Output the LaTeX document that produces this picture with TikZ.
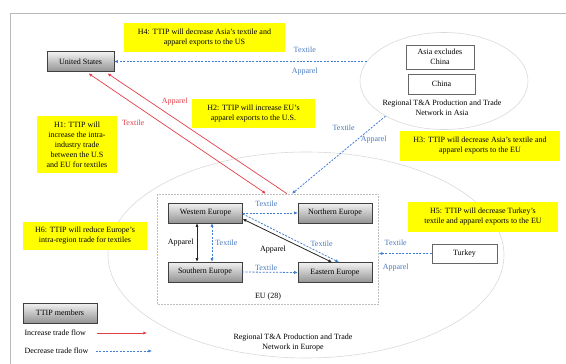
\documentclass[tikz,border=0pt]{standalone}
\usepackage{fontspec}
\setmainfont{Liberation Serif}
\usetikzlibrary{arrows.meta,shapes.geometric}

\definecolor{incred}{RGB}{228,62,72}
\definecolor{decblue}{RGB}{66,126,212}
\definecolor{lblblue}{RGB}{72,122,192}
\definecolor{hypyellow}{RGB}{255,255,0}

\tikzstyle{member}=[draw=gray!50!black, top color=gray!10, bottom color=gray!85, minimum height=20pt, inner sep=1pt]
\tikzstyle{other}=[draw=gray!80!black, line width=0.7pt, fill=white, align=center, inner sep=1pt]
\tikzstyle{hypo}=[fill=hypyellow, align=center, inner sep=1pt]
\tikzstyle{region}=[draw=gray!30, line width=0.6pt, ellipse, inner sep=0pt]
\tikzstyle{eubox}=[draw=gray!50, dash pattern=on 2pt off 1pt, line width=0.6pt, inner sep=0pt]
\tikzstyle{incr}=[draw=incred, line width=0.7pt]
\tikzstyle{decr}=[draw=decblue, line width=0.8pt, dash pattern=on 2pt off 1.4pt]
\tikzstyle{intra}=[draw=black!85, line width=0.8pt]
\tikzstyle{redlbl}=[text=incred, inner sep=1pt]
\tikzstyle{bluelbl}=[text=lblblue, inner sep=1pt]
\tikzstyle{blacklbl}=[inner sep=1pt]
\newcommand{\flowfont}{\fontsize{8}{10}\selectfont}

\begin{document}
\begin{tikzpicture}[x=1pt, y=-1pt, font=\flowfont, >={Latex[length=3.6pt,width=3.2pt]}]
    \useasboundingbox (0,0) rectangle (566,364);
    % Frame and the two regional networks
    \draw[gray!55, line width=1pt] (10,364) -- (10,13) -- (566,13);
    \node[region, minimum width=168pt, minimum height=97pt] (asia) at (444,81) {};
    \node[region, minimum width=396pt, minimum height=206pt] (europe) at (306,255) {};
    \node[eubox, minimum width=221pt, minimum height=110pt] (eu) at (268,249) {};
    \node (eulbl) at (268,297) {EU (28)};
    \node[align=center] (asialbl) at (442,107.5) {Regional T\&A Production and Trade\\Network in Asia};
    \node[align=center] (europelbl) at (293,342.5) {Regional T\&A Production and Trade\\Network in Europe};
    % The hypotheses
    \foreach \pos/\name/\w/\h/\txt in {{(204.5,37.5)/hfour/161/29/{H4: TTIP will decrease Asia’s textile and\\apparel exports to the US}},
        {(77,144.5)/hone/80/57/{H1: TTIP will\\increase the intra-\\industry trade\\between the U.S\\and EU for textiles}},
        {(253.5,113.5)/htwo/123/29/{H2: TTIP will increase EU’s\\apparel exports to the U.S.}},
        {(480,146)/hthree/160/30/{H3: TTIP will decrease Asia’s textile and\\apparel exports to the EU}},
        {(483,217)/hfive/150/30/{H5: TTIP will decrease Turkey’s\\textile and apparel exports to the EU}},
        {(85,236)/hsix/124/28/{H6: TTIP will reduce Europe’s\\intra-region trade for textiles}}}
        \node[hypo, minimum width=\w pt, minimum height=\h pt] (\name) at \pos {\txt};
    % Then the countries and regions
    \foreach \pos/\name/\w/\txt in {{(80.5,61.5)/us/67/United States}, {(205.5,213)/weu/74/Western Europe},
        {(335,213)/neu/74/Northern Europe}, {(205,272)/seu/74/Southern Europe},
        {(335,272.5)/eeu/74/Eastern Europe}, {(60,313)/ttip/74/TTIP members}}
        \node[member, minimum width=\w pt] (\name) at \pos {\txt};
    \foreach \pos/\name/\w/\h/\txt in {{(440,57)/asnc/68/24/{Asia excludes\\China}}, {(441.5,84)/china/67/20/China},
        {(464.5,253.5)/tur/65/19/Turkey}}
        \node[other, minimum width=\w pt, minimum height=\h pt] (\name) at \pos {\txt};
    % Trade flows between the regions
    \path[decr, ->] (asia.166 |- us.east) -- node[bluelbl, pos=0.245, above=8pt] (txa) {Textile}
        node[bluelbl, pos=0.245, below=5.5pt] (apa) {Apparel} (us.east);
    \path[decr, ->] (asia.211) -- node[bluelbl, pos=0.154, left=15pt] (txb) {Textile}
        node[bluelbl, pos=0.3, right=2pt] (apb) {Apparel} ([xshift=24pt]eu.north);
    \path[incr, <->, shorten <=3pt] ([xshift=5.5pt]us.south) -- node[redlbl, pos=0.42, left=16pt] (txc) {Textile} ([xshift=-2pt]eu.north);
    \path[incr, ->, shorten >=3pt] ([xshift=19pt]eu.north) -- node[redlbl, pos=0.756, right=11pt] (apc) {Apparel} ([xshift=24.5pt]us.south);
    \path[decr, ->] (tur.west) -- node[bluelbl, pos=0.68, above=7pt] (txd) {Textile}
        node[bluelbl, pos=0.68, below=9pt] (apd) {Apparel} (tur.west -| eu.east);
    % Trade flows within the EU
    \path[decr, ->] (weu.east) -- node[bluelbl, pos=0.43, above=5pt] (txe) {Textile} (neu.west);
    \path[decr, ->] (seu.east) -- node[bluelbl, pos=0.43, above=0pt] (txf) {Textile} (eeu.west);
    \path[intra, <->] ([xshift=-8.5pt]weu.south) -- node[blacklbl, left=2pt] (apg) {Apparel} ([xshift=-8pt]seu.north);
    \path[decr, <->] ([xshift=6.5pt]weu.south) -- node[bluelbl, right=2pt] (txg) {Textile} ([xshift=7pt]seu.north);
    \path[intra, <->] ([yshift=-6pt]weu.east) -- node[blacklbl, pos=0.34, below=11pt] (aph) {Apparel} ([xshift=-3pt]eeu.north);
    \path[decr, ->] ([yshift=-1pt]weu.east) -- node[bluelbl, pos=0.82, above=6pt] (txh) {Textile} ([xshift=4pt]eeu.north);
    % Legend
    \node[anchor=west] (inclbl) at (21,333) {Increase trade flow};
    \node[anchor=west] (declbl) at (21,351) {Decrease trade flow};
    \coordinate (incend) at (147,333);
    \coordinate (decend) at (152,351);
    \path[incr, ->] ([xshift=8pt]inclbl.east) -- (incend);
    \path[decr, ->] ([xshift=4pt]declbl.east) -- (decend);
\end{tikzpicture}
\end{document}
